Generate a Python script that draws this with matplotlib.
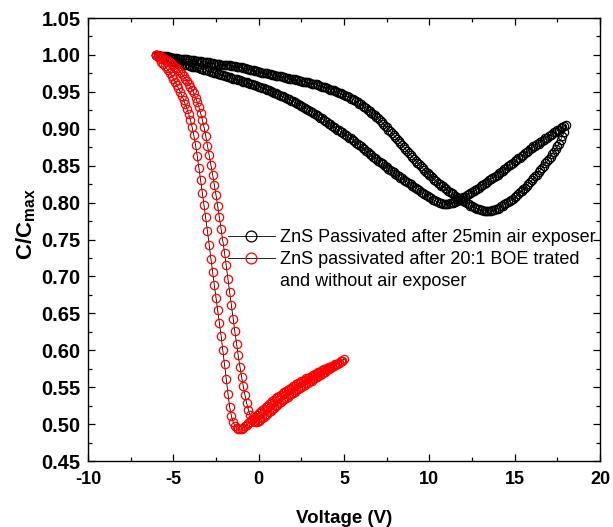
import numpy as np
import matplotlib.pyplot as plt
from matplotlib.lines import Line2D
from matplotlib.ticker import MultipleLocator

plt.rcParams['font.family'] = ['Liberation Sans', 'DejaVu Sans']
plt.rcParams['mathtext.fontset'] = 'custom'
plt.rcParams['mathtext.rm'] = 'Liberation Sans'
plt.rcParams['mathtext.bf'] = 'Liberation Sans:bold'
plt.rcParams['axes.unicode_minus'] = False

# =========================
# data
# =========================

# bias sweep, 0.1 V steps
v_black = np.round(np.arange(-6.0, 18.05, 0.1), 1)   # -6 .. 18
v_red = np.round(np.arange(-6.0, 5.05, 0.1), 1)      # -6 .. 5

# 25 min air exposed: sweep -6 -> 18 (lower branch)
black_fwd = [
    1.000, 0.999, 0.998, 0.997, 0.996, 0.995, 0.994, 0.993, 0.993, 0.992,
    0.991, 0.990, 0.990, 0.989, 0.989, 0.988, 0.987, 0.987, 0.986, 0.986,
    0.985, 0.984, 0.984, 0.983, 0.983, 0.982, 0.981, 0.981, 0.980, 0.980,
    0.979, 0.978, 0.977, 0.977, 0.976, 0.975, 0.974, 0.974, 0.973, 0.973,
    0.972, 0.971, 0.970, 0.970, 0.969, 0.968, 0.967, 0.967, 0.966, 0.966,
    0.965, 0.964, 0.963, 0.963, 0.962, 0.961, 0.960, 0.959, 0.959, 0.958,
    0.957, 0.956, 0.955, 0.955, 0.954, 0.953, 0.952, 0.951, 0.950, 0.949,
    0.948, 0.947, 0.946, 0.945, 0.944, 0.943, 0.942, 0.941, 0.940, 0.938,
    0.937, 0.936, 0.935, 0.934, 0.932, 0.931, 0.930, 0.928, 0.927, 0.925,
    0.924, 0.923, 0.921, 0.920, 0.918, 0.917, 0.915, 0.914, 0.912, 0.911,
    0.909, 0.907, 0.906, 0.904, 0.903, 0.901, 0.899, 0.898, 0.896, 0.895,
    0.893, 0.891, 0.890, 0.888, 0.887, 0.885, 0.883, 0.881, 0.880, 0.878,
    0.876, 0.874, 0.872, 0.870, 0.868, 0.866, 0.864, 0.862, 0.861, 0.859,
    0.857, 0.855, 0.853, 0.852, 0.850, 0.848, 0.846, 0.844, 0.843, 0.841,
    0.839, 0.837, 0.836, 0.834, 0.833, 0.831, 0.829, 0.828, 0.826, 0.825,
    0.823, 0.821, 0.820, 0.818, 0.817, 0.815, 0.813, 0.812, 0.810, 0.809,
    0.807, 0.806, 0.804, 0.803, 0.802, 0.801, 0.800, 0.799, 0.798, 0.798,
    0.798, 0.798, 0.799, 0.799, 0.800, 0.801, 0.802, 0.803, 0.804, 0.806,
    0.807, 0.808, 0.810, 0.811, 0.813, 0.814, 0.816, 0.817, 0.819, 0.820,
    0.822, 0.824, 0.825, 0.827, 0.828, 0.830, 0.832, 0.833, 0.835, 0.836,
    0.838, 0.840, 0.842, 0.843, 0.845, 0.847, 0.849, 0.851, 0.852, 0.854,
    0.856, 0.858, 0.860, 0.861, 0.863, 0.865, 0.867, 0.869, 0.870, 0.872,
    0.874, 0.876, 0.877, 0.879, 0.880, 0.882, 0.884, 0.885, 0.887, 0.888,
    0.890, 0.892, 0.893, 0.895, 0.896, 0.898, 0.899, 0.901, 0.902, 0.904,
    0.905,
]

# 25 min air exposed: return branch, listed for V = -6 .. 17.9
black_rev = [
    1.000, 1.000, 0.999, 0.999, 0.998, 0.998, 0.998, 0.997, 0.997, 0.996,
    0.996, 0.996, 0.996, 0.995, 0.995, 0.995, 0.995, 0.994, 0.994, 0.993,
    0.993, 0.993, 0.993, 0.992, 0.992, 0.992, 0.992, 0.991, 0.991, 0.990,
    0.990, 0.990, 0.989, 0.989, 0.988, 0.988, 0.988, 0.988, 0.987, 0.987,
    0.987, 0.987, 0.986, 0.986, 0.985, 0.985, 0.985, 0.984, 0.984, 0.983,
    0.983, 0.982, 0.982, 0.981, 0.981, 0.980, 0.979, 0.979, 0.978, 0.978,
    0.977, 0.977, 0.976, 0.976, 0.975, 0.975, 0.974, 0.974, 0.973, 0.973,
    0.972, 0.972, 0.971, 0.971, 0.970, 0.970, 0.969, 0.969, 0.968, 0.968,
    0.967, 0.967, 0.966, 0.966, 0.965, 0.965, 0.964, 0.964, 0.963, 0.963,
    0.962, 0.961, 0.961, 0.960, 0.960, 0.959, 0.958, 0.957, 0.957, 0.956,
    0.955, 0.954, 0.953, 0.953, 0.952, 0.951, 0.950, 0.949, 0.948, 0.947,
    0.946, 0.945, 0.944, 0.943, 0.941, 0.940, 0.939, 0.937, 0.936, 0.934,
    0.933, 0.931, 0.929, 0.928, 0.926, 0.924, 0.922, 0.920, 0.918, 0.916,
    0.914, 0.912, 0.909, 0.907, 0.904, 0.902, 0.899, 0.897, 0.894, 0.892,
    0.889, 0.886, 0.883, 0.881, 0.878, 0.875, 0.872, 0.870, 0.867, 0.865,
    0.862, 0.859, 0.857, 0.854, 0.852, 0.849, 0.847, 0.844, 0.842, 0.840,
    0.838, 0.836, 0.833, 0.831, 0.829, 0.827, 0.825, 0.823, 0.822, 0.820,
    0.818, 0.816, 0.814, 0.813, 0.811, 0.809, 0.808, 0.806, 0.805, 0.803,
    0.802, 0.801, 0.799, 0.798, 0.796, 0.795, 0.794, 0.793, 0.792, 0.791,
    0.790, 0.790, 0.789, 0.789, 0.789, 0.789, 0.789, 0.790, 0.790, 0.791,
    0.792, 0.793, 0.795, 0.796, 0.798, 0.799, 0.801, 0.802, 0.804, 0.805,
    0.807, 0.809, 0.811, 0.814, 0.816, 0.818, 0.820, 0.823, 0.825, 0.828,
    0.830, 0.833, 0.836, 0.838, 0.841, 0.844, 0.847, 0.850, 0.853, 0.856,
    0.859, 0.862, 0.866, 0.869, 0.873, 0.876, 0.880, 0.885, 0.890, 0.895,
]

# BOE treated: sweep -6 -> 5 (outer branch)
red_fwd = [
    1.000, 0.997, 0.994, 0.991, 0.988, 0.985, 0.982, 0.979, 0.976, 0.972,
    0.968, 0.964, 0.959, 0.955, 0.950, 0.945, 0.939, 0.933, 0.927, 0.920,
    0.912, 0.902, 0.891, 0.878, 0.863, 0.847, 0.830, 0.813, 0.797, 0.780,
    0.761, 0.742, 0.724, 0.706, 0.688, 0.671, 0.654, 0.637, 0.619, 0.600,
    0.581, 0.561, 0.541, 0.523, 0.511, 0.503, 0.498, 0.495, 0.494, 0.493,
    0.494, 0.495, 0.497, 0.499, 0.501, 0.503, 0.506, 0.508, 0.510, 0.513,
    0.515, 0.517, 0.519, 0.521, 0.523, 0.525, 0.527, 0.529, 0.531, 0.533,
    0.535, 0.537, 0.538, 0.540, 0.542, 0.543, 0.545, 0.546, 0.548, 0.549,
    0.551, 0.552, 0.554, 0.555, 0.556, 0.558, 0.559, 0.560, 0.562, 0.563,
    0.564, 0.565, 0.567, 0.568, 0.569, 0.570, 0.571, 0.573, 0.574, 0.575,
    0.576, 0.577, 0.578, 0.579, 0.580, 0.581, 0.582, 0.583, 0.585, 0.586,
    0.588,
]

# BOE treated: return branch, listed for V = -6 .. 4.9
red_rev = [
    1.000, 0.999, 0.998, 0.997, 0.996, 0.995, 0.993, 0.992, 0.990, 0.988,
    0.986, 0.984, 0.982, 0.980, 0.977, 0.974, 0.971, 0.968, 0.965, 0.961,
    0.957, 0.953, 0.948, 0.942, 0.936, 0.929, 0.921, 0.912, 0.902, 0.890,
    0.877, 0.864, 0.851, 0.838, 0.824, 0.810, 0.795, 0.780, 0.764, 0.748,
    0.732, 0.715, 0.697, 0.679, 0.661, 0.643, 0.626, 0.609, 0.593, 0.578,
    0.564, 0.551, 0.539, 0.528, 0.519, 0.512, 0.507, 0.504, 0.503, 0.503,
    0.504, 0.506, 0.508, 0.510, 0.512, 0.514, 0.516, 0.518, 0.520, 0.522,
    0.524, 0.526, 0.528, 0.530, 0.532, 0.534, 0.535, 0.537, 0.539, 0.541,
    0.542, 0.544, 0.546, 0.547, 0.549, 0.550, 0.552, 0.553, 0.555, 0.556,
    0.558, 0.559, 0.561, 0.562, 0.564, 0.565, 0.567, 0.568, 0.570, 0.571,
    0.573, 0.574, 0.576, 0.577, 0.579, 0.580, 0.582, 0.583, 0.585, 0.586,
]

labels = [
    "ZnS Passivated after 25min air exposer",
    "ZnS passivated after 20:1 BOE trated",
    "and without air exposer",
]

# full loops: forward sweep then back
vb = np.concatenate([v_black, v_black[:-1][::-1]])
cb = np.concatenate([black_fwd, black_rev[::-1]])
vr = np.concatenate([v_red, v_red[:-1][::-1]])
cr = np.concatenate([red_fwd, red_rev[::-1]])

# =========================
# plot
# =========================

fig = plt.figure(figsize=(6.13, 5.27), dpi=100)
ax = fig.add_axes([0.1436, 0.1252, 0.8352, 0.8406])

l1, = ax.plot(vb, cb, color='black', lw=0.6, marker='o', ms=6,
              mfc='none', mec='black', mew=0.9)
l2, = ax.plot(vr, cr, color='black', lw=0.6, marker='o', ms=6,
              mfc='none', mec='red', mew=0.9)

ax.set_xlim(-10, 20)
ax.set_ylim(0.45, 1.05)
ax.xaxis.set_major_locator(MultipleLocator(5))
ax.xaxis.set_minor_locator(MultipleLocator(2.5))
ax.yaxis.set_minor_locator(MultipleLocator(0.025))
yt = np.arange(0.45, 1.051, 0.05)
ax.set_yticks(yt)
ax.set_yticklabels([f"{t:.2f}" for t in yt])

ax.tick_params(which='both', direction='in', top=True, right=True, width=0.9)
ax.tick_params(which='major', length=5)
ax.tick_params(which='minor', length=3)
ax.tick_params(axis='x', pad=7)
ax.tick_params(axis='y', pad=5.5)
for lab in ax.get_xticklabels():
    lab.set_fontweight('bold')
    lab.set_fontsize(13)
for lab in ax.get_yticklabels():
    lab.set_fontweight('bold')
    lab.set_fontsize(14.5)
for s in ax.spines.values():
    s.set_linewidth(1.0)

ax.set_xlabel("Voltage (V)", fontsize=13.5, fontweight='bold', labelpad=16)
ax.set_ylabel(r"$\mathbf{C/C}_{\mathbf{max}}$", fontsize=16)
ax.yaxis.set_label_coords(-0.098, 0.535)

blank = Line2D([], [], linestyle='none', marker=None)
ax.legend([l1, l2, blank], labels, loc='upper left',
          bbox_to_anchor=(228 / 613, 1 - 229 / 527),
          bbox_transform=fig.transFigure, frameon=False, fontsize=13,
          numpoints=1, markerscale=1.3, handlelength=2.6,
          handletextpad=0.3, labelspacing=0.28, borderpad=0,
          borderaxespad=0)

plt.savefig("out.png", dpi=100)
